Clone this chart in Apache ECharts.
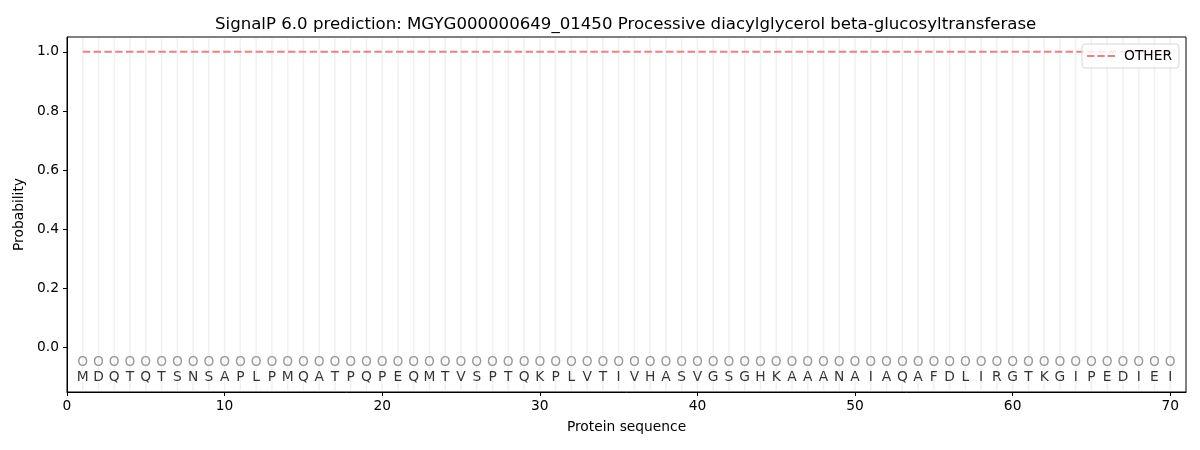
<!DOCTYPE html>
<html>
<head>
<meta charset="utf-8">
<script src="https://cdn.jsdelivr.net/npm/echarts@6/dist/echarts.min.js"></script>
<style>
  html, body { margin: 0; padding: 0; background: #fff; }
  #chart { width: 1200px; height: 450px; }
</style>
</head>
<body>
<div id="chart"></div>
<script>
// protein sequence, one residue per position
const residues = ['M','D','Q','T','Q','T','S','N','S','A','P','L','P','M','Q','A','T','P','Q','P',
  'E','Q','M','T','V','S','P','T','Q','K','P','L','V','T','I','V','H','A','S','V',
  'G','S','G','H','K','A','A','A','N','A','I','A','Q','A','F','D','L','I','R','G',
  'T','K','G','I','P','E','D','I','E','I']
// predicted region label per position (O = other)
const predicted = 'OOOOOOOOOOOOOOOOOOOOOOOOOOOOOOOOOOOOOOOOOOOOOOOOOOOOOOOOOOOOOOOOOOOOOO'.split('')
// probability of OTHER at each position
const otherProb = [1,1,1,1,1,1,1,1,1,1, 1,1,1,1,1,1,1,1,1,1,
  1,1,1,1,1,1,1,1,1,1, 1,1,1,1,1,1,1,1,1,1,
  1,1,1,1,1,1,1,1,1,1, 1,1,1,1,1,1,1,1,1,1,
  1,1,1,1,1,1,1,1,1,1]
const markerY = -0.05
const letterY = -0.1
const xTicks = [0, 10, 20, 30, 40, 50, 60, 70]
const yTicks = [0, 0.2, 0.4, 0.6, 0.8, 1.0]
const yMin = -0.15
const yMax = 1.05

const positions = residues.map((r, i) => i + 1)
const font = 'DejaVu Sans'
const fs = 13.8

const chart = echarts.init(document.getElementById('chart'))
const option = {
  animation: false,
  textStyle: { fontFamily: font },
  title: {
    text: 'SignalP 6.0 prediction: MGYG000000649_01450 Processive diacylglycerol beta-glucosyltransferase',
    left: 210, // centred over the plot area, not the page
    top: 11,
    textStyle: { fontFamily: font, fontSize: 16.6, fontWeight: 'normal', color: '#000' },
  },
  legend: {
    right: 21,
    top: 44,
    itemWidth: 28,
    itemHeight: 10,
    itemGap: 10,
    padding: [5, 7, 5, 5],
    borderColor: '#d6d6d6',
    borderWidth: 1,
    borderRadius: 3,
    backgroundColor: 'rgba(255,255,255,0.8)',
    textStyle: { fontFamily: font, fontSize: fs, color: '#000', padding: [0, 0, 0, 4] },
    data: [{ name: 'OTHER', icon: 'path://M0,4 L8,4 L8,6 L0,6 Z M11,4 L19,4 L19,6 L11,6 Z M22,4 L30,4 L30,6 L22,6 Z' }],
  },
  grid: { left: 67, right: 14, top: 37, bottom: 58, show: true, borderColor: '#000', borderWidth: 1, backgroundColor: 'transparent' },
  xAxis: {
    type: 'value',
    min: 0,
    max: 71,
    name: 'Protein sequence',
    nameLocation: 'middle',
    nameGap: 28,
    nameTextStyle: { fontFamily: font, fontSize: fs, color: '#000' },
    axisLine: { show: true, onZero: false, lineStyle: { color: '#000' } },
    axisTick: { show: true, length: 4, customValues: xTicks, lineStyle: { color: '#000' } },
    axisLabel: { customValues: xTicks, fontSize: fs, color: '#000', margin: 7 },
    splitLine: { show: false },
  },
  yAxis: {
    type: 'value',
    min: yMin,
    max: yMax,
    name: 'Probability',
    nameLocation: 'middle',
    nameGap: 40,
    nameTextStyle: { fontFamily: font, fontSize: fs, color: '#000' },
    axisLine: { show: true, onZero: false, lineStyle: { color: '#000' } },
    axisTick: { show: true, length: 4, customValues: yTicks, lineStyle: { color: '#000' } },
    axisLabel: { customValues: yTicks, fontSize: fs, color: '#000', margin: 8, formatter: v => v.toFixed(1) },
    splitLine: { show: false },
  },
  series: [
    {
      // light vertical guide at every residue position, kept just inside the frame
      name: 'guides',
      type: 'custom',
      silent: true,
      z: 0,
      data: positions.map(p => [p]),
      renderItem: (params, api) => {
        const top = api.coord([api.value(0), yMax])
        const bottom = api.coord([api.value(0), yMin])
        return {
          type: 'line',
          shape: { x1: top[0], y1: top[1] + 1.5, x2: bottom[0], y2: bottom[1] - 1.5 },
          style: { stroke: '#f0f0f0', lineWidth: 1.5 },
        }
      },
    },
    {
      name: 'OTHER',
      type: 'line',
      data: positions.map((p, i) => [p, otherProb[i]]),
      symbol: 'none',
      itemStyle: { color: '#f08080' },
      lineStyle: { color: '#f08080', width: 2, type: [7.5, 3.3] },
      z: 3,
    },
    {
      name: 'predicted',
      type: 'scatter',
      data: positions.map((p, i) => ({ value: [p, markerY], name: predicted[i] })),
      symbolSize: 1,
      itemStyle: { color: 'rgba(0,0,0,0)' },
      label: {
        show: true,
        position: 'inside',
        formatter: d => d.name,
        fontFamily: font,
        fontSize: fs,
        color: '#808080',
      },
      z: 4,
    },
    {
      name: 'residues',
      type: 'scatter',
      data: positions.map((p, i) => ({ value: [p, letterY], name: residues[i] })),
      symbolSize: 1,
      itemStyle: { color: 'rgba(0,0,0,0)' },
      label: {
        show: true,
        position: 'inside',
        formatter: d => d.name,
        fontFamily: font,
        fontSize: fs,
        color: '#000',
      },
      z: 4,
    },
  ],
}
chart.setOption(option)
</script>
</body>
</html>
